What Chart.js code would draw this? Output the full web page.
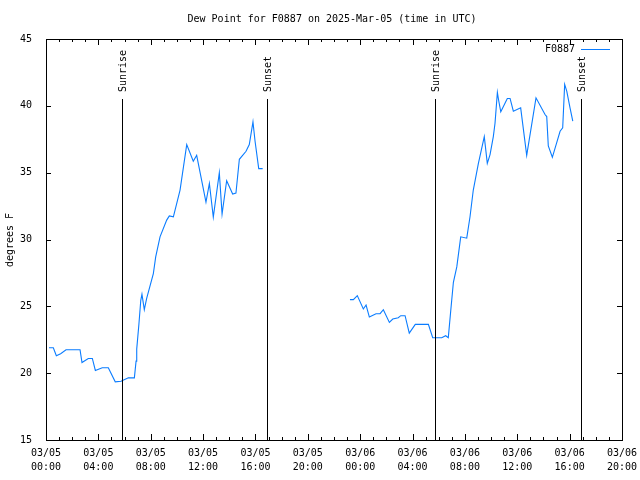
<!DOCTYPE html>
<html>
<head>
<meta charset="utf-8">
<script src="https://cdn.jsdelivr.net/npm/chart.js@4"></script>
<style>
  html, body { margin: 0; padding: 0; background: #fff; }
  #wrap { width: 640px; height: 480px; }
</style>
</head>
<body>
<div id="wrap"><canvas id="dew-chart" width="640" height="480"></canvas></div>
<script>
// hours since 03/05 00:00 UTC
const hours1 = [0.23, 0.56, 0.79, 1.12, 1.53, 2.60, 2.75, 3.23, 3.54, 3.77, 4.30, 4.76, 5.29, 5.73,
  6.29, 6.75, 6.88, 6.93, 7.10, 7.24, 7.33, 7.51, 7.69, 8.20, 8.38, 8.71, 9.22, 9.42, 9.73, 10.24,
  10.75, 11.25, 11.51, 12.22, 12.48, 12.78, 13.24, 13.45, 13.80, 14.26, 14.51, 14.77, 15.28, 15.53,
  15.81, 15.97, 16.25, 16.55];
const dew1 = [21.9, 21.9, 21.3, 21.45, 21.75, 21.75, 20.8, 21.1, 21.1, 20.2, 20.4, 20.4, 19.35, 19.4,
  19.65, 19.65, 20.9, 21.8, 23.7, 25.45, 25.9, 24.75, 25.6, 27.45, 28.7, 30.2, 31.45, 31.77, 31.7, 33.7,
  37.1, 35.85, 36.3, 32.8, 34.2, 31.67, 35.0, 31.9, 34.4, 33.4, 33.47, 36.0, 36.6, 37.1,
  38.8, 37.35, 35.3, 35.3];

const hours2 = [23.22, 23.48, 23.78, 24.24, 24.45, 24.70, 25.21, 25.52, 25.77, 26.23, 26.49, 26.91,
  27.10, 27.43, 27.75, 28.21, 29.21, 29.54, 30.23, 30.53, 30.73, 30.92, 31.12, 31.38, 31.68, 32.14,
  32.39, 32.64, 33.03, 33.48, 33.71, 33.92, 34.17, 34.30, 34.48, 34.58, 34.74, 35.24, 35.45, 35.70,
  36.26, 36.72, 37.43, 38.12, 38.25, 38.37, 38.68, 39.27, 39.47, 39.62, 39.78, 40.03, 40.24];
const dew2 = [25.5, 25.5, 25.8, 24.8, 25.1, 24.2, 24.45, 24.45, 24.75, 23.8, 24.05, 24.15,
  24.3, 24.3, 23.0, 23.65, 23.65, 22.65, 22.65, 22.8, 22.65, 24.7, 26.8, 27.95, 30.2, 30.1,
  31.7, 33.7, 35.7, 37.7, 35.7, 36.35, 37.7, 38.7, 41.0, 40.4, 39.55, 40.55, 40.55, 39.6,
  39.85, 36.3, 40.6, 39.35, 39.2, 37.0, 36.15, 38.1, 38.35, 41.6, 41.1, 39.85, 38.85];

const sunTimes = [5.80, 16.88, 29.72, 40.87];
const sunLabels = ['Sunrise', 'Sunset', 'Sunrise', 'Sunset'];

const xDates = ['03/05', '03/05', '03/05', '03/05', '03/05', '03/05', '03/06', '03/06', '03/06', '03/06', '03/06', '03/06'];
const xTimes = ['00:00', '04:00', '08:00', '12:00', '16:00', '20:00', '00:00', '04:00', '08:00', '12:00', '16:00', '20:00'];

const titleText = 'Dew Point for F0887 on 2025-Mar-05 (time in UTC)';
const seriesName = 'F0887';
const FONT = '10px "DejaVu Sans Mono", monospace';
const LINE_COLOR = '#0a7cff';

const points = [];
hours1.forEach((h, i) => points.push({ x: h, y: dew1[i] }));
points.push({ x: 20, y: null }); // data gap
hours2.forEach((h, i) => points.push({ x: h, y: dew2[i] }));

// frame, inward ticks, sun markers, title, legend, y label
const gnuplotLook = {
  id: 'gnuplotLook',
  afterDatasetsDraw(chart) {
    const { ctx, chartArea: a, scales } = chart;
    const xs = scales.x, ys = scales.y;
    ctx.save();
    ctx.strokeStyle = '#000';
    ctx.lineWidth = 1;
    ctx.beginPath();
    // x ticks every hour, long every 4 h
    for (let h = 0; h <= 44; h++) {
      const px = Math.round(xs.getPixelForValue(h)) + 0.5;
      const len = h % 4 === 0 ? 6 : 3;
      ctx.moveTo(px, a.bottom); ctx.lineTo(px, a.bottom - len);
      ctx.moveTo(px, a.top); ctx.lineTo(px, a.top + len);
    }
    for (let v = 15; v <= 45; v += 5) {
      const py = Math.round(ys.getPixelForValue(v)) + 0.5;
      ctx.moveTo(a.left, py); ctx.lineTo(a.left + 5, py);
      ctx.moveTo(a.right, py); ctx.lineTo(a.right - 5, py);
    }
    ctx.stroke();
    ctx.strokeRect(Math.round(a.left) + 0.5, Math.round(a.top) + 0.5,
      Math.round(a.right - a.left), Math.round(a.bottom - a.top));

    // sunrise / sunset
    ctx.font = FONT;
    ctx.fillStyle = '#000';
    sunTimes.forEach((t, i) => {
      const px = Math.round(xs.getPixelForValue(t)) + 0.5;
      ctx.beginPath();
      ctx.moveTo(px, a.bottom);
      ctx.lineTo(px, a.top + 60);
      ctx.stroke();
      ctx.save();
      ctx.translate(px + 1, a.top + 53);
      ctx.rotate(-Math.PI / 2);
      ctx.textAlign = 'left';
      ctx.textBaseline = 'middle';
      ctx.fillText(sunLabels[i], 0, 0);
      ctx.restore();
    });

    // title
    ctx.textAlign = 'center';
    ctx.textBaseline = 'middle';
    ctx.fillText(titleText, 332, 19);

    // legend
    ctx.textAlign = 'right';
    ctx.fillText(seriesName, 575, 49);
    ctx.strokeStyle = LINE_COLOR;
    ctx.beginPath();
    ctx.moveTo(581, 49.5); ctx.lineTo(610, 49.5);
    ctx.stroke();

    // y axis label
    ctx.save();
    ctx.translate(10, 240);
    ctx.rotate(-Math.PI / 2);
    ctx.textAlign = 'center';
    ctx.textBaseline = 'middle';
    ctx.fillText('degrees F', 0, 0);
    ctx.restore();
    ctx.restore();
  }
};

new Chart(document.getElementById('dew-chart'), {
  type: 'line',
  data: {
    datasets: [{
      label: seriesName,
      data: points,
      borderColor: LINE_COLOR,
      borderWidth: 1.1,
      pointRadius: 0,
      tension: 0,
      spanGaps: false,
      fill: false,
    }],
  },
  options: {
    responsive: false,
    animation: false,
    layout: { padding: { top: 39, right: 18, left: 0, bottom: 0 } },
    plugins: {
      legend: { display: false },
      title: { display: false },
      tooltip: { enabled: false },
    },
    scales: {
      x: {
        type: 'linear',
        min: 0,
        max: 44,
        grid: { display: false },
        border: { display: false },
        afterFit: (scale) => { scale.height = 40; scale.paddingLeft = 0; scale.paddingRight = 0; },
        ticks: {
          stepSize: 4,
          autoSkip: false,
          maxRotation: 0,
          padding: -2,
          color: '#000',
          font: { family: '"DejaVu Sans Mono", monospace', size: 10, lineHeight: 1.4 },
          callback: (v) => {
            const i = Math.round(v / 4);
            return [xDates[i], xTimes[i]];
          },
        },
      },
      y: {
        min: 15,
        max: 45,
        grid: { display: false },
        border: { display: false },
        afterFit: (scale) => { scale.width = 46; scale.paddingTop = 0; scale.paddingBottom = 0; },
        ticks: {
          stepSize: 5,
          padding: 6,
          color: '#000',
          font: { family: '"DejaVu Sans Mono", monospace', size: 10 },
        },
      },
    },
  },
  plugins: [gnuplotLook],
});
</script>
</body>
</html>
